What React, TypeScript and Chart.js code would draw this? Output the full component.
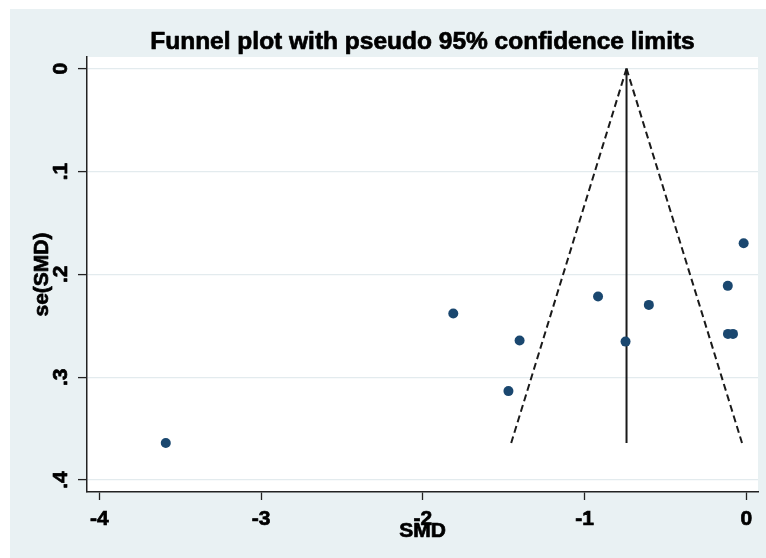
import React, { useEffect, useRef } from 'react';
import { Chart, registerables } from 'chart.js';
Chart.register(...registerables);

// Study estimates (standardized mean difference and its standard error)
const smd = [-3.589, -1.812, -1.402, -1.471, -0.917, -0.747, -0.603, -0.115, -0.114, -0.083, -0.017];
const seSmd = [0.364, 0.238, 0.2644, 0.3135, 0.2216, 0.2654, 0.2297, 0.2112, 0.2579, 0.2579, 0.1697];

// Pooled estimate and pseudo 95% confidence limits (at se = 0 and se = max)
const funnelSe = [0, 0.364];
const pooledLine = [-0.741, -0.741];
const lowerLimit = [-0.741, -1.454];
const upperLimit = [-0.741, -0.027];

const xTicks = [-4, -3, -2, -1, 0];
const xTickLabels = ['-4', '-3', '-2', '-1', '0'];
const yTicks = [0, 0.1, 0.2, 0.3, 0.4];
const yTickLabels = ['0', '.1', '.2', '.3', '.4'];
const titleText = 'Funnel plot with pseudo 95% confidence limits';
const xTitle = 'SMD';
const yTitle = 'se(SMD)';

const FONT = '"Liberation Sans", Arial, Helvetica, sans-serif';

const bgPlugin = {
  id: 'stataBg',
  beforeDraw(chart: any) {
    const { ctx, width, height, chartArea } = chart;
    ctx.save();
    ctx.fillStyle = '#ffffff';
    ctx.fillRect(0, 0, width, height);
    ctx.fillStyle = '#e9f1f3';
    ctx.fillRect(10, 9, width - 10, height - 9);
    ctx.fillStyle = '#ffffff';
    ctx.fillRect(chartArea.left, chartArea.top, chartArea.right - chartArea.left, chartArea.bottom - chartArea.top);
    ctx.restore();
  },
};

function boldText(ctx: any, text: string, x: number, y: number, rot: number) {
  ctx.save();
  ctx.translate(x, y);
  if (rot) ctx.rotate(rot);
  ctx.fillText(text, 0, 0);
  ctx.strokeText(text, 0, 0);
  ctx.restore();
}

const textPlugin = {
  id: 'stataText',
  afterDraw(chart: any) {
    const { ctx, chartArea } = chart;
    const ys = chart.scales.y;
    const cx = (chartArea.left + chartArea.right) / 2;
    const cy = (chartArea.top + chartArea.bottom) / 2;
    ctx.save();
    ctx.fillStyle = '#000';
    ctx.strokeStyle = '#000';
    ctx.lineWidth = 0.7;
    ctx.lineJoin = 'round';
    ctx.textAlign = 'center';
    ctx.textBaseline = 'alphabetic';
    ctx.font = `bold 24.5px ${FONT}`;
    boldText(ctx, titleText, cx, 49, 0);
    ctx.textBaseline = 'middle';
    ctx.font = `bold 21px ${FONT}`;
    yTicks.forEach((v, i) => {
      boldText(ctx, yTickLabels[i], 61, ys.getPixelForValue(v), -Math.PI / 2);
    });
    boldText(ctx, xTitle, cx, 531, 0);
    boldText(ctx, yTitle, 42, cy, -Math.PI / 2);
    ctx.restore();
  },
};

export default function App() {
  const ref = useRef<HTMLCanvasElement | null>(null);
  useEffect(() => {
    if (!ref.current) return;
    const chart = new Chart(ref.current, {
      type: 'scatter',
      data: {
        datasets: [
          {
            label: 'Studies',
            data: smd.map((x, i) => ({ x, y: seSmd[i] })),
            backgroundColor: '#1a476f',
            borderColor: '#1a476f',
            borderWidth: 0,
            pointRadius: 5,
          },
          {
            label: 'Pooled',
            data: pooledLine.map((x, i) => ({ x, y: funnelSe[i] })),
            showLine: true,
            borderColor: '#1a1a1a',
            borderWidth: 2,
            pointRadius: 0,
          },
          {
            label: 'Lower',
            data: lowerLimit.map((x, i) => ({ x, y: funnelSe[i] })),
            showLine: true,
            borderColor: '#1a1a1a',
            borderWidth: 2,
            borderDash: [7, 4],
            pointRadius: 0,
          },
          {
            label: 'Upper',
            data: upperLimit.map((x, i) => ({ x, y: funnelSe[i] })),
            showLine: true,
            borderColor: '#1a1a1a',
            borderWidth: 2,
            borderDash: [7, 4],
            pointRadius: 0,
          },
        ],
      },
      options: {
        animation: false,
        responsive: false,
        devicePixelRatio: 1,
        layout: { padding: { top: 57, right: 8, left: 0, bottom: 0 } },
        plugins: { legend: { display: false }, tooltip: { enabled: false }, title: { display: false } },
        scales: {
          x: {
            type: 'linear',
            min: -4.076,
            max: 0.0717,
            afterBuildTicks: (s: any) => {
              s.ticks = xTicks.map((v) => ({ value: v }));
            },
            afterFit: (s: any) => {
              s.height = 66;
            },
            ticks: {
              autoSkip: false,
              maxRotation: 0,
              padding: 7,
              color: '#000',
              textStrokeColor: '#000',
              textStrokeWidth: 0.7,
              font: { family: FONT, size: 21, weight: 'bold' },
              callback: (_v: any, i: number) => xTickLabels[i],
            },
            grid: { drawOnChartArea: false, drawTicks: true, tickLength: 8, tickColor: '#222', tickWidth: 1.3 },
            border: { display: true, color: '#222', width: 1.5 },
            title: { display: false },
          },
          y: {
            type: 'linear',
            reverse: true,
            min: -0.0113,
            max: 0.4116,
            afterBuildTicks: (s: any) => {
              s.ticks = yTicks.map((v) => ({ value: v }));
            },
            afterFit: (s: any) => {
              s.width = 87;
            },
            ticks: { display: false },
            grid: { color: '#e3ebee', lineWidth: 1.2, drawTicks: true, tickLength: 9, tickColor: '#222', tickWidth: 1.3 },
            border: { display: true, color: '#222', width: 1.5 },
            title: { display: false },
          },
        },
      },
      plugins: [bgPlugin, textPlugin],
    });
    return () => chart.destroy();
  }, []);
  return (
    <div style={{ position: 'fixed', left: 0, top: 0, width: 766, height: 558, overflow: 'hidden' }}>
      <canvas ref={ref} width={766} height={558} style={{ display: 'block', width: 766, height: 558 }} />
    </div>
  );
}
